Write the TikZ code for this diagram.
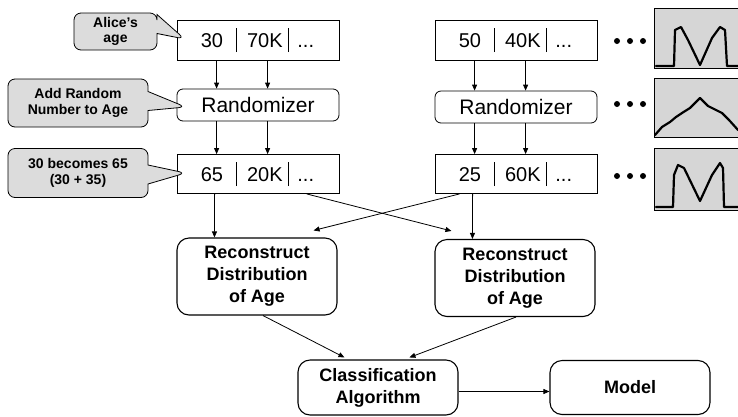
\documentclass[tikz,border=0pt]{standalone}
\usepackage{fontspec}
\setmainfont{Liberation Sans}
\usetikzlibrary{arrows.meta,calc,shapes.callouts}
\definecolor{notegray}{HTML}{DCDCDC}
\definecolor{plotgray}{HTML}{D6D6D6}

% one record: age | salary | ...
\newcommand{\rowcells}[2]{\hbox to 162pt{%
  \makebox[59pt][r]{#1\hspace{13pt}}\vrule width 0.7pt height 19pt depth 5pt
  \makebox[51pt][r]{#2\hspace{5pt}}\vrule width 0.7pt height 19pt depth 5pt
  \hspace{9pt}...\hfill}}

\tikzset{
  rowbox/.style={draw,line width=0.8pt,minimum width=162pt,minimum height=40pt,
    inner xsep=0pt,inner ysep=0pt,font=\fontsize{20}{24}\selectfont},
  randbox/.style={draw,line width=0.8pt,rounded corners=6pt,minimum width=162pt,
    minimum height=32pt,font=\fontsize{21}{24}\selectfont},
  stepbox/.style={draw,line width=1.1pt,rounded corners=12pt,align=center,
    minimum width=160pt,minimum height=77pt,
    font=\bfseries\fontsize{18}{22}\selectfont},
  note/.style={rectangle callout,draw,line width=0.8pt,fill=notegray,
    rounded corners=7pt,align=center,callout pointer width=19pt,
    font=\bfseries\fontsize{14}{15.5}\selectfont},
  flow/.style={-{Triangle[length=6pt,width=5pt]},line width=0.8pt},
  panel/.style={draw,line width=1pt,fill=plotgray},
  curve/.style={line width=2.2pt,line join=round,line cap=round}
}

\begin{document}
\begin{tikzpicture}[x=1pt,y=-1pt]
  \useasboundingbox (0,0) rectangle (738,416);

  % Left column
  \node[rowbox] (top1) at (258,40) {\rowcells{30}{70K}};
  \node[randbox] (rand1) at (258,105) {Randomizer};
  \node[rowbox,minimum height=39pt] (mid1) at (258,174) {\rowcells{65}{20K}};

  % Right column
  \node[rowbox] (top2) at (516,40) {\rowcells{50}{40K}};
  \node[randbox] (rand2) at (516,107) {Randomizer};
  \node[rowbox,minimum height=39pt] (mid2) at (516,174) {\rowcells{25}{60K}};

  % Callouts
  \node[note,minimum width=83pt,minimum height=37pt,
    callout absolute pointer={($(top1.west)+(8,-1)$)}] (alice) at (115.5,31.5) {Alice's\\age};
  \node[note,minimum width=140pt,minimum height=48pt,
    callout absolute pointer={($(rand1.west)+(9,2)$)}] (addrand) at (78,103) {Add Random\\Number to Age};
  \node[note,minimum width=140pt,minimum height=49pt,
    callout absolute pointer={($(mid1.west)+(9,-1)$)}] (becomes) at (78,173) {30 becomes 65\\(30 + 35)};

  % Reconstruction and classification
  \node[stepbox] (rec1) at (257,276.5) {Reconstruct\\Distribution\\of Age};
  \node[stepbox] (rec2) at (515,278) {Reconstruct\\Distribution\\of Age};
  \node[stepbox,minimum height=55pt] (class) at (378,387.5) {Classification\\Algorithm};
  \node[stepbox,minimum height=54pt] (model) at (630,387.5) {Model};

  % Column arrows
  \foreach \c in {1,2}{
    \foreach \dx in {40,91}{
      \draw[flow] ($(top\c.south west)+(\dx,0)$) -- ($(rand\c.north west)+(\dx,0)$);
      \draw[flow] ($(rand\c.south west)+(\dx,0)$) -- ($(mid\c.north west)+(\dx,0)$);
    }
  }

  % Into reconstruction
  \draw[flow] ($(mid1.south west)+(38,0)$) -- ($(rec1.north west)+(38,0)$);
  \draw[flow] ($(mid2.south west)+(38,0)$) -- ($(rec2.north west)+(38,0)$);
  \draw[flow] ($(mid1.south west)+(130,0)$) -- ($(rec2.north west)+(17,-8)$);
  \draw[flow] ($(mid2.south west)+(25,0)$) -- ($(rec1.north east)+(-24,-7)$);

  % Into classification
  \draw[flow] ($(rec1.south)+(6,0)$) -- ($(class.north west)+(47,-2)$);
  \draw[flow] ($(rec2.south)+(1,0)$) -- ($(class.north west)+(112,-2)$);
  \draw[flow] ([yshift=-4pt]class.east) -- ([yshift=-4pt]model.west);

  % Dots
  \foreach \y in {41,104,176}
    \foreach \x in {617,630,643}
      \fill (\x,\y) circle (3pt);

  % Distribution plots
  \draw[panel] (654,8) rectangle (745,68);
  \draw[curve] (656,66) -- (674,66) -- (675,30) -- (681,27) -- (688,40) -- (700,65)
    -- (712,38) -- (720,27) -- (725,30) -- (727,66) -- (738,66);
  \draw[panel] (654,78) rectangle (745,137);
  \draw[curve] (655,135) -- (662,127) -- (670,122) -- (676,117) -- (682,113) -- (690,108)
    -- (700,98) -- (708,106) -- (716,110) -- (722,113) -- (729,120) -- (738,130);
  \draw[panel] (654,148) rectangle (745,210);
  \draw[curve] (656,207) -- (673,207) -- (674,175) -- (678,165) -- (684,168) -- (700,201)
    -- (712,175) -- (720,163) -- (723,168) -- (724,207) -- (738,207);
\end{tikzpicture}
\end{document}
